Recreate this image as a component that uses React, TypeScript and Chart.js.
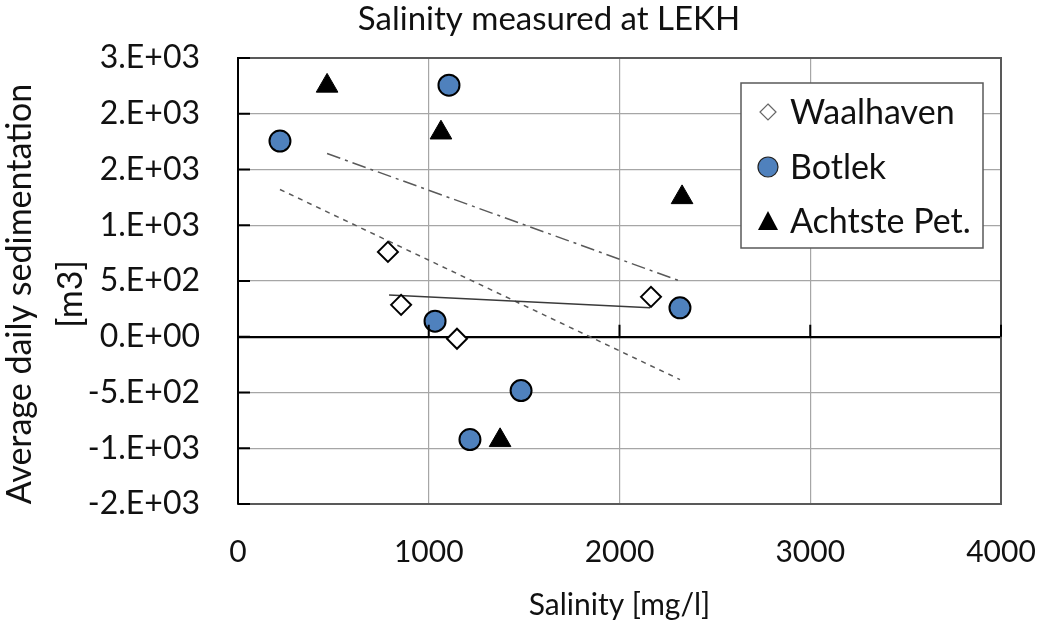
import React, { useEffect, useRef } from "react";
import { Chart, registerables } from "chart.js";

Chart.register(...registerables);

const chartTitle = "Salinity measured at LEKH";
const xAxisTitle = "Salinity [mg/l]";
const yAxisTitle = ["Average daily sedimentation", "[m3]"];

const seriesNames = ["Waalhaven", "Botlek", "Achtste Pet."];

const waalhavenX = [786, 855, 1148, 2165];
const waalhavenY = [761, 286, -18, 358];

const botlekX = [220, 1106, 1033, 2317, 1484, 1216];
const botlekY = [1755, 2256, 140, 259, -483, -922];

const achtsteX = [467, 1064, 2328, 1374];
const achtsteY = [2250, 1830, 1250, -929];

const waalhavenTrendX = [792, 2160];
const waalhavenTrendY = [375, 259];
const botlekTrendX = [220, 2317];
const botlekTrendY = [1321, -384];
const achtsteTrendX = [467, 2317];
const achtsteTrendY = [1643, 500];

const xTickValues = [0, 1000, 2000, 3000, 4000];
const yTickValues = [-1500, -1000, -500, 0, 500, 1000, 1500, 2000, 2500];
const yTickLabels = ["-2.E+03", "-1.E+03", "-5.E+02", "0.E+00", "5.E+02", "1.E+03", "2.E+03", "2.E+03", "3.E+03"];

const FONT = "Lato";
const TEXT = "#111111";
const GRID = "#a6a6a6";
const BORDER = "#595959";
const BLUE = "#4f81bd";

const pts = (xs: number[], ys: number[]) => xs.map((x, i) => ({ x, y: ys[i] }));

const decorPlugin = {
  id: "decor",
  afterDraw(chart: any) {
    const { ctx, chartArea: a, scales } = chart;
    const xs = scales.x;
    const ys = scales.y;
    ctx.save();
    ctx.strokeStyle = BORDER;
    ctx.lineWidth = 2;
    ctx.beginPath();
    ctx.moveTo(a.left, a.top);
    ctx.lineTo(a.right, a.top);
    ctx.lineTo(a.right, a.bottom);
    ctx.lineTo(a.left, a.bottom);
    ctx.stroke();
    ctx.strokeStyle = "#000";
    ctx.beginPath();
    ctx.moveTo(a.left, a.top);
    ctx.lineTo(a.left, a.bottom);
    ctx.stroke();
    ctx.beginPath();
    yTickValues.forEach((v) => {
      const y = ys.getPixelForValue(v);
      ctx.moveTo(a.left, y);
      ctx.lineTo(a.left + 12, y);
    });
    const y0 = ys.getPixelForValue(0);
    xTickValues.forEach((v) => {
      const x = xs.getPixelForValue(v);
      ctx.moveTo(x, y0);
      ctx.lineTo(x, y0 - 12);
    });
    ctx.stroke();

    // chart title
    ctx.fillStyle = TEXT;
    ctx.font = `33px ${FONT}`;
    ctx.textAlign = "center";
    ctx.textBaseline = "middle";
    ctx.fillText(chartTitle, 549, 19);

    // y axis title (two lines, rotated)
    ctx.save();
    ctx.translate(0, 294);
    ctx.rotate(-Math.PI / 2);
    ctx.font = `34px ${FONT}`;
    ctx.textAlign = "center";
    ctx.textBaseline = "middle";
    ctx.fillText(yAxisTitle[0], 0, 20);
    ctx.fillText(yAxisTitle[1], 0, 71);
    ctx.restore();

    // legend
    const lx = 741, ly = 83, lw = 242, lh = 165;
    ctx.fillStyle = "#fff";
    ctx.fillRect(lx, ly, lw, lh);
    ctx.strokeStyle = BORDER;
    ctx.lineWidth = 1.5;
    ctx.strokeRect(lx, ly, lw, lh);
    const rows = [112, 167, 221];
    const mx = 768;
    ctx.beginPath();
    ctx.moveTo(mx, rows[0] - 8);
    ctx.lineTo(mx + 8, rows[0]);
    ctx.lineTo(mx, rows[0] + 8);
    ctx.lineTo(mx - 8, rows[0]);
    ctx.closePath();
    ctx.fillStyle = "#fff";
    ctx.fill();
    ctx.strokeStyle = "#666";
    ctx.lineWidth = 1.2;
    ctx.stroke();
    ctx.beginPath();
    ctx.arc(mx, rows[1], 10, 0, Math.PI * 2);
    ctx.fillStyle = BLUE;
    ctx.fill();
    ctx.strokeStyle = "#222";
    ctx.lineWidth = 1.2;
    ctx.stroke();
    ctx.beginPath();
    ctx.moveTo(mx, rows[2] - 10);
    ctx.lineTo(mx + 10, rows[2] + 9);
    ctx.lineTo(mx - 10, rows[2] + 9);
    ctx.closePath();
    ctx.fillStyle = "#000";
    ctx.fill();
    ctx.fillStyle = TEXT;
    ctx.font = `34px ${FONT}`;
    ctx.textAlign = "left";
    ctx.textBaseline = "middle";
    seriesNames.forEach((n, i) => ctx.fillText(n, 790, rows[i] + 1));
    ctx.restore();
  },
};

export default function App() {
  const ref = useRef<HTMLCanvasElement | null>(null);
  useEffect(() => {
    document.body.style.margin = "0";
    const canvas = ref.current!;
    const chart = new Chart(canvas, {
      type: "scatter",
      data: {
        datasets: [
          {
            label: seriesNames[0],
            data: pts(waalhavenX, waalhavenY),
            pointStyle: "rectRot",
            pointRadius: 10,
            pointBackgroundColor: "#fff",
            pointBorderColor: "#000",
            pointBorderWidth: 2,
            order: 1,
          },
          {
            label: seriesNames[1],
            data: pts(botlekX, botlekY),
            pointStyle: "circle",
            pointRadius: 10.5,
            pointBackgroundColor: BLUE,
            pointBorderColor: "#000",
            pointBorderWidth: 2,
            order: 1,
          },
          {
            label: seriesNames[2],
            data: pts(achtsteX, achtsteY),
            pointStyle: "triangle",
            pointRadius: 12.5,
            pointBackgroundColor: "#000",
            pointBorderColor: "#000",
            pointBorderWidth: 1,
            order: 1,
          },
          {
            label: "trend " + seriesNames[0],
            data: pts(waalhavenTrendX, waalhavenTrendY),
            showLine: true,
            pointRadius: 0,
            borderColor: "#3a3a3a",
            borderWidth: 1.5,
            order: 2,
          },
          {
            label: "trend " + seriesNames[1],
            data: pts(botlekTrendX, botlekTrendY),
            showLine: true,
            pointRadius: 0,
            borderColor: "#595959",
            borderWidth: 1.5,
            borderDash: [5, 5],
            order: 2,
          },
          {
            label: "trend " + seriesNames[2],
            data: pts(achtsteTrendX, achtsteTrendY),
            showLine: true,
            pointRadius: 0,
            borderColor: "#595959",
            borderWidth: 1.5,
            borderDash: [14, 5, 3, 5],
            order: 2,
          },
        ],
      },
      options: {
        animation: false,
        responsive: false,
        layout: { padding: { left: 0, right: 45, top: 58, bottom: 0 } },
        plugins: {
          legend: { display: false },
          title: { display: false },
          tooltip: { enabled: false },
        },
        scales: {
          x: {
            type: "linear",
            min: 0,
            max: 4000,
            afterBuildTicks: (s: any) => {
              s.ticks = xTickValues.map((v) => ({ value: v }));
            },
            afterFit: (s: any) => {
              s.height = 125;
              s.paddingLeft = 0;
              s.paddingRight = 0;
            },
            grid: { color: GRID, lineWidth: 1.2, drawTicks: false },
            border: { display: true, color: BORDER, width: 2 },
            ticks: {
              padding: 30,
              color: TEXT,
              font: { family: FONT, size: 30 },
              maxRotation: 0,
              callback: (v: any) => String(v),
            },
            title: {
              display: true,
              text: xAxisTitle,
              color: TEXT,
              font: { family: FONT, size: 30 },
              padding: { top: 0, bottom: 6 },
            },
          },
          y: {
            type: "linear",
            min: -1500,
            max: 2500,
            afterBuildTicks: (s: any) => {
              s.ticks = yTickValues.map((v) => ({ value: v }));
            },
            afterFit: (s: any) => {
              s.width = 238;
              s.paddingTop = 0;
              s.paddingBottom = 0;
            },
            grid: {
              drawTicks: false,
              color: (c: any) => (c.tick && c.tick.value === 0 ? "#000" : GRID),
              lineWidth: (c: any) => (c.tick && c.tick.value === 0 ? 2.2 : 1.2),
            },
            border: { display: true, color: "#000", width: 2 },
            ticks: {
              padding: 38,
              color: TEXT,
              font: { family: FONT, size: 32 },
              callback: (v: any) => {
                const i = yTickValues.indexOf(Number(v));
                return i >= 0 ? yTickLabels[i] : "";
              },
            },
            title: { display: false },
          },
        },
      },
      plugins: [decorPlugin],
    } as any);
    return () => chart.destroy();
  }, []);
  return (
    <div style={{ position: "absolute", left: 0, top: 0, width: 1046, height: 629 }}>
      <canvas ref={ref} width={1046} height={629} />
    </div>
  );
}
